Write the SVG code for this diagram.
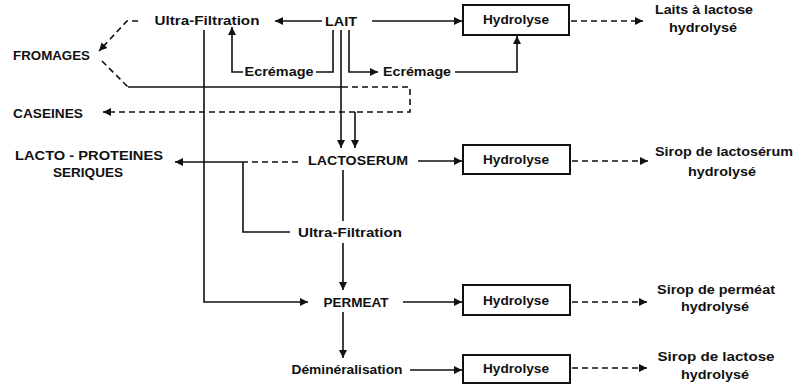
<svg xmlns="http://www.w3.org/2000/svg" width="794" height="384" viewBox="0 0 794 384">
<style>
text{font-family:"Liberation Sans","DejaVu Sans",sans-serif;font-size:12px;font-weight:bold;fill:#111;}
.c{text-anchor:middle;}
.ln{fill:none;stroke:#111;stroke-width:1.6;}
.d{stroke-dasharray:6 4;}
.box{fill:#fff;stroke:#111;stroke-width:2;}
</style>
<defs>
<marker id="ar" viewBox="0 0 10 10" markerUnits="userSpaceOnUse" markerWidth="9" markerHeight="8" refX="10" refY="5" orient="auto">
<path d="M0,0 L10,5 L0,10 z" fill="#111"/>
</marker>
</defs>
<rect width="794" height="384" fill="#fff"/>
<g id="connectors">
<path class="ln" d="M322,21 L275,21" marker-end="url(#ar)"/>
<path class="ln" d="M372,21 L462,21" marker-end="url(#ar)"/>
<path class="ln d" d="M571,21 L643,21" marker-end="url(#ar)"/>
<path class="ln" d="M333,30 L333,72 L316,72"/>
<path class="ln" d="M243,72 L232,72 L232,27" marker-end="url(#ar)"/>
<path class="ln" d="M349,30 L349,72 L378,72" marker-end="url(#ar)"/>
<path class="ln" d="M455,72 L517,72 L517,36" marker-end="url(#ar)"/>
<path class="ln" d="M341,30 L341,148" marker-end="url(#ar)"/>
<path class="ln" d="M204,30 L204,302 L308,302" marker-end="url(#ar)"/>
<path class="ln d" d="M138,21 L127,21 L99,51" marker-end="url(#ar)"/>
<path class="ln d" d="M102,61 L128,87"/>
<path class="ln" d="M128,87 L342,87"/>
<path class="ln d" d="M342,87 L410,87 L410,112 L355,112"/>
<path class="ln d" d="M355,112 L103,112" marker-end="url(#ar)"/>
<path class="ln" d="M355,112 L355,148" marker-end="url(#ar)"/>
<path class="ln d" d="M298,162 L245,162"/>
<path class="ln" d="M245,162 L175,162" marker-end="url(#ar)"/>
<path class="ln" d="M243,162 L243,232 L290,232"/>
<path class="ln" d="M343,170 L343,221"/>
<path class="ln" d="M343,243 L343,290" marker-end="url(#ar)"/>
<path class="ln" d="M418,161 L462,161" marker-end="url(#ar)"/>
<path class="ln d" d="M572,161 L648,161" marker-end="url(#ar)"/>
<path class="ln" d="M403,302 L462,302" marker-end="url(#ar)"/>
<path class="ln d" d="M572,302 L647,302" marker-end="url(#ar)"/>
<path class="ln" d="M343,312 L343,358" marker-end="url(#ar)"/>
<path class="ln" d="M410,370 L462,370" marker-end="url(#ar)"/>
<path class="ln d" d="M572,368 L647,368" marker-end="url(#ar)"/>
</g>
<g id="uf1"><text class="c" x="207" y="25" textLength="105" lengthAdjust="spacingAndGlyphs">Ultra-Filtration</text></g>
<g id="lait"><text class="c" x="341" y="25.5" textLength="32" lengthAdjust="spacingAndGlyphs">LAIT</text></g>
<g id="ecremage1"><text class="c" x="279" y="76" textLength="69" lengthAdjust="spacingAndGlyphs">Ecrémage</text></g>
<g id="ecremage2"><text class="c" x="417" y="76" textLength="68" lengthAdjust="spacingAndGlyphs">Ecrémage</text></g>
<g id="fromages"><text x="13" y="59.5" textLength="77" lengthAdjust="spacingAndGlyphs">FROMAGES</text></g>
<g id="caseines"><text x="13" y="117.5" textLength="70" lengthAdjust="spacingAndGlyphs">CASEINES</text></g>
<g id="hydro1"><rect class="box" x="463" y="5" width="106" height="30"/><text class="c" x="516" y="24" textLength="66" lengthAdjust="spacingAndGlyphs">Hydrolyse</text></g>
<g id="laits"><text class="c" x="704" y="14" textLength="98" lengthAdjust="spacingAndGlyphs">Laits à lactose</text><text class="c" x="703" y="32" textLength="68" lengthAdjust="spacingAndGlyphs">hydrolysé</text></g>
<g id="lactoprot"><text class="c" x="89" y="159.5" textLength="148" lengthAdjust="spacingAndGlyphs">LACTO - PROTEINES</text><text class="c" x="88" y="176.5" textLength="70" lengthAdjust="spacingAndGlyphs">SERIQUES</text></g>
<g id="lactoserum"><text class="c" x="358" y="164.5" textLength="100" lengthAdjust="spacingAndGlyphs">LACTOSERUM</text></g>
<g id="hydro2"><rect class="box" x="463" y="145" width="107" height="29"/><text class="c" x="516" y="164" textLength="66" lengthAdjust="spacingAndGlyphs">Hydrolyse</text></g>
<g id="sirop1"><text class="c" x="724" y="156" textLength="138" lengthAdjust="spacingAndGlyphs">Sirop de lactosérum</text><text class="c" x="722" y="176" textLength="68" lengthAdjust="spacingAndGlyphs">hydrolysé</text></g>
<g id="uf2"><text class="c" x="350" y="237" textLength="104" lengthAdjust="spacingAndGlyphs">Ultra-Filtration</text></g>
<g id="permeat"><text class="c" x="356" y="306.5" textLength="65" lengthAdjust="spacingAndGlyphs">PERMEAT</text></g>
<g id="hydro3"><rect class="box" x="463" y="285" width="107" height="30"/><text class="c" x="516" y="305" textLength="66" lengthAdjust="spacingAndGlyphs">Hydrolyse</text></g>
<g id="sirop2"><text class="c" x="716" y="294" textLength="118" lengthAdjust="spacingAndGlyphs">Sirop de perméat</text><text class="c" x="715" y="311" textLength="68" lengthAdjust="spacingAndGlyphs">hydrolysé</text></g>
<g id="demin"><text class="c" x="347" y="374" textLength="111" lengthAdjust="spacingAndGlyphs">Déminéralisation</text></g>
<g id="hydro4"><rect class="box" x="463" y="355" width="107" height="28"/><text class="c" x="516" y="373" textLength="66" lengthAdjust="spacingAndGlyphs">Hydrolyse</text></g>
<g id="sirop3"><text class="c" x="716" y="361" textLength="117" lengthAdjust="spacingAndGlyphs">Sirop de lactose</text><text class="c" x="715" y="379" textLength="68" lengthAdjust="spacingAndGlyphs">hydrolysé</text></g>
</svg>
